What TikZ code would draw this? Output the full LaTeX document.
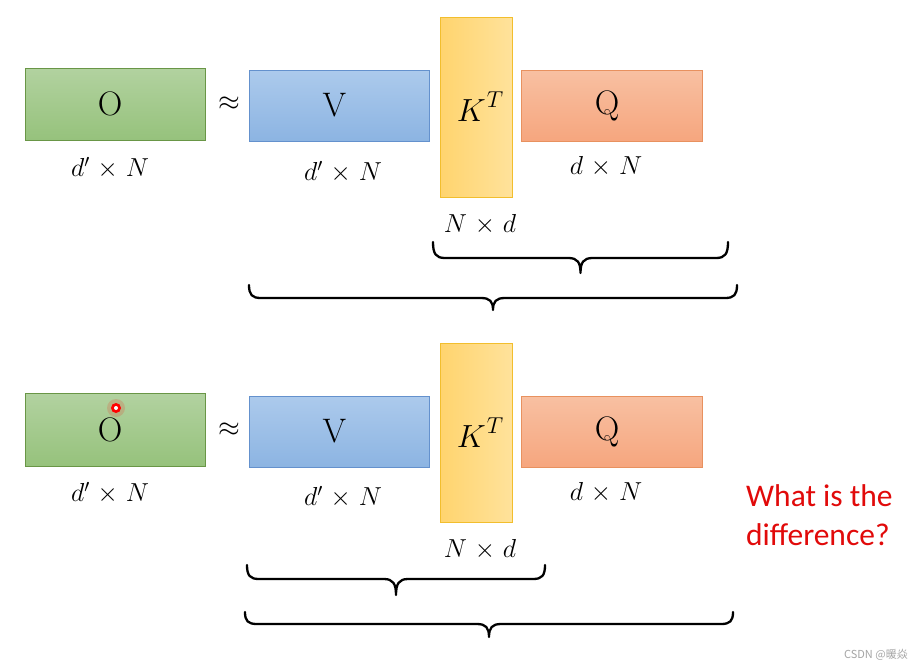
\RequirePackage{fix-cm}
\documentclass[tikz,border=0pt]{standalone}
\usepackage{fontspec}
\usetikzlibrary{calc}
\newfontfamily\redfont{Carlito}
\newfontfamily\cjkfont{Noto Sans CJK SC}
\definecolor{gfillT}{RGB}{178,210,160}
\definecolor{gfillB}{RGB}{150,194,124}
\definecolor{gdraw}{RGB}{105,150,70}
\definecolor{bfillT}{RGB}{172,202,236}
\definecolor{bfillB}{RGB}{140,180,226}
\definecolor{bdraw}{RGB}{100,145,205}
\definecolor{yfillL}{RGB}{255,212,110}
\definecolor{yfillR}{RGB}{255,226,155}
\definecolor{ydraw}{RGB}{242,190,45}
\definecolor{qfillT}{RGB}{248,192,162}
\definecolor{qfillB}{RGB}{246,166,126}
\definecolor{qdraw}{RGB}{232,145,95}
\definecolor{redtxt}{RGB}{225,10,10}
\definecolor{wm}{RGB}{165,165,165}
\tikzset{
  box/.style={draw, line width=1pt, inner sep=0pt, font=\fontsize{34}{40}\selectfont},
  obox/.style={box, minimum width=180pt, minimum height=72pt, draw=gdraw, top color=gfillT, bottom color=gfillB},
  vbox/.style={box, minimum width=180pt, minimum height=71pt, draw=bdraw, top color=bfillT, bottom color=bfillB},
  kbox/.style={box, minimum width=72pt, minimum height=180pt, draw=ydraw, left color=yfillL, right color=yfillR},
  qbox/.style={box, minimum width=181pt, minimum height=71pt, draw=qdraw, top color=qfillT, bottom color=qfillB},
  dimlabel/.style={font=\fontsize{26}{30}\selectfont, inner sep=0pt},
  approx/.style={font=\fontsize{28}{30}\selectfont, inner sep=0pt},
  bracestyle/.style={line width=2.3pt, line cap=round, line join=round},
}
% #1 left tip, #2 right tip, #3 depth of straight part, #4 depth of point
\newcommand\curlybrace[4]{%
  \draw[bracestyle] let \p1=(#1), \p2=(#2), \n1={(\x1+\x2)/2} in
    (\p1) .. controls (\x1,\y1-0.75*#3) and (\x1+3pt,\y1-#3) .. (\x1+12pt,\y1-#3)
    -- (\n1-12pt,\y1-#3)
    .. controls (\n1-3pt,\y1-#3) and (\n1,\y1-#3-0.3*#4+0.3*#3) .. (\n1,\y1-#4)
    .. controls (\n1,\y1-#3-0.3*#4+0.3*#3) and (\n1+3pt,\y1-#3) .. (\n1+12pt,\y1-#3)
    -- (\x2-12pt,\y1-#3)
    .. controls (\x2-3pt,\y1-#3) and (\x2,\y1-0.75*#3) .. (\p2);}
\newcommand\lbl[2]{\hspace*{#1}#2}
\newcommand\ktrans{{\fontsize{32}{36}\selectfont$K$}\kern1pt\raisebox{14pt}{\fontsize{23}{26}\selectfont$T$}}
\newcommand\dimtxt[2]{$#1\mkern1.5mu\times\mkern1.5mu #2$}
\begin{document}
\begin{tikzpicture}[x=1pt,y=-1pt]
\useasboundingbox[fill=white] (0,0) rectangle (924,667);

% ---------- top row ----------
\node[obox] (o1) at (115,104) {\lbl{-10pt}{O}};
\node[approx] (ap1) at (229,104) {$\approx$};
\node[vbox] (v1) at (339,105.5) {\lbl{-9pt}{V}};
\node[kbox] (k1) at (476,107) {\lbl{8pt}{\ktrans}};
\node[qbox] (q1) at (611.5,105.5) {\lbl{-9pt}{Q}};
\node[dimlabel] (o1l) at (110,168) {\dimtxt{d'}{N}};
\node[dimlabel] (v1l) at (343,172) {\dimtxt{d'}{N}};
\node[dimlabel] (k1l) at (480,225) {\dimtxt{N}{d}};
\node[dimlabel] (q1l) at (606,167) {\dimtxt{d}{N}};

\coordinate (b1a) at (433,242);
\coordinate (b1b) at (728,242);
\coordinate (b2a) at (249,285);
\coordinate (b2b) at (737,285);
\curlybrace{b1a}{b1b}{16pt}{31pt}
\curlybrace{b2a}{b2b}{13pt}{25pt}

% ---------- bottom row ----------
\node[obox, minimum height=73pt] (o2) at (115,429.5) {\lbl{-10pt}{O}};
\node[approx] (ap2) at (229,430) {$\approx$};
\node[vbox] (v2) at (339,431.5) {\lbl{-9pt}{V}};
\node[kbox, minimum height=179pt] (k2) at (476,432.5) {\lbl{8pt}{\ktrans}};
\node[qbox] (q2) at (611.5,431.5) {\lbl{-9pt}{Q}};
\node[dimlabel] (o2l) at (110,493) {\dimtxt{d'}{N}};
\node[dimlabel] (v2l) at (343,497) {\dimtxt{d'}{N}};
\node[dimlabel] (k2l) at (480,550) {\dimtxt{N}{d}};
\node[dimlabel] (q2l) at (606,493) {\dimtxt{d}{N}};

\coordinate (b3a) at (247,565);
\coordinate (b3b) at (545,565);
\coordinate (b4a) at (245,612);
\coordinate (b4b) at (733,612);
\curlybrace{b3a}{b3b}{14pt}{30pt}
\curlybrace{b4a}{b4b}{12pt}{25pt}

% pointer dot
\coordinate (dot) at (116,408);
\fill[red, opacity=0.15] (dot) circle (9);
\fill[red] (dot) circle (5);
\fill[white] (dot) circle (2);

% question
\node[anchor=west, align=left, inner sep=0pt, text=redtxt,
      font=\redfont\fontsize{31.5}{39}\selectfont] (qtext) at (746,515)
      {What is the\\difference?};

% watermark
\node[anchor=east, inner sep=0pt, text=wm, font=\cjkfont\fontsize{11}{13}\selectfont] (wmk) at (908,655) {CSDN @暖焱};
\end{tikzpicture}
\end{document}
